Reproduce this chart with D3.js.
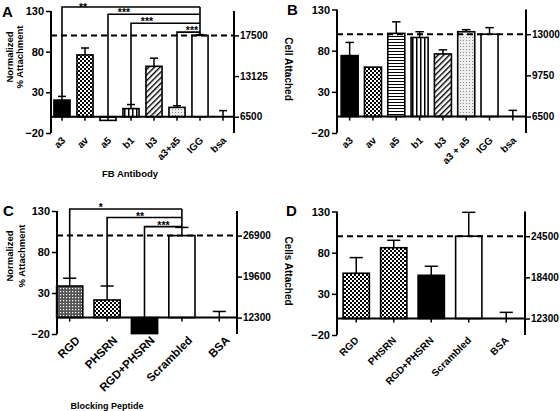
<!DOCTYPE html>
<html><head><meta charset="utf-8">
<script src="https://cdn.jsdelivr.net/npm/d3@7"></script>
<style>
body{margin:0;background:#fff}
text{font-family:"Liberation Sans",Arial,Helvetica,sans-serif;font-weight:bold;fill:#000}
</style>
</head><body>
<svg id="chart" width="560" height="411"></svg>
<script>
// ---------- DATA ----------
const leftTicks = [-20, 30, 80, 130];
const rightTickPos = [100, 50, 0];

// Panel A
const catsA = ["a3", "av", "a5", "b1", "b3", "a3+a5", "IGG", "bsa"];
const valsA = [20.5, 76, -4.5, 10, 62, 11.5, 100, 0];
const errsA = [4.5, 8.5, 0, 5, 10, 2, 1, 7.5];
const rightLabelsA = ["17500", "13125", "6500"];
const sigFromA = ["a3", "a5", "b1", "a3+a5"];
const sigToA = ["IGG", "IGG", "IGG", "IGG"];
const sigLevelA = [135, 126, 115, 104];
const sigLabelA = ["**", "***", "***", "***"];

// Panel B
const catsB = ["a3", "av", "a5", "b1", "b3", "a3 + a5", "IGG", "bsa"];
const valsB = [74, 60, 101, 96, 76, 103, 100, 0];
const errsB = [16, 0, 14, 7, 5, 2.5, 8, 7.5];
const rightLabelsB = ["13000", "9750", "6500"];

// Panel C
const catsC = ["RGD", "PHSRN", "RGD+PHSRN", "Scrambled", "BSA"];
const valsC = [38.5, 21.5, -19.5, 100, 0];
const errsC = [9.5, 17, 0, 10, 7.5];
const rightLabelsC = ["26900", "19600", "12300"];
const sigFromC = ["RGD", "PHSRN", "RGD+PHSRN"];
const sigToC = ["Scrambled", "Scrambled", "Scrambled"];
const sigLevelC = [132.5, 122, 111];
const sigLabelC = ["*", "**", "***"];

// Panel D
const catsD = ["RGD", "PHSRN", "RGD+PHSRN", "Scrambled", "BSA"];
const valsD = [55, 86, 52.5, 100, 0];
const errsD = [19, 9, 11, 29, 7.5];
const rightLabelsD = ["24500", "18400", "12300"];

// ---------- STYLE / LAYOUT ----------
const svg = d3.select("#chart");
const defs = svg.append("defs");

function pat(id, w, h, draw, bg) {
  const p = defs.append("pattern").attr("id", id).attr("patternUnits", "userSpaceOnUse")
    .attr("width", w).attr("height", h);
  p.append("rect").attr("width", w).attr("height", h).attr("fill", bg || "#fff");
  draw(p);
}
pat("checker", 4, 4, p => {
  p.append("rect").attr("x", 0).attr("y", 0).attr("width", 2).attr("height", 2).attr("fill", "#000");
  p.append("rect").attr("x", 2).attr("y", 2).attr("width", 2).attr("height", 2).attr("fill", "#000");
});
pat("checkerDark", 3, 3, p => {
  p.append("rect").attr("x", 0).attr("y", 0).attr("width", 1.2).attr("height", 1.2).attr("fill", "#fff");
}, "#555");
pat("hstripes", 3, 3, p => {
  p.append("rect").attr("x", 0).attr("y", 0).attr("width", 3).attr("height", 1).attr("fill", "#000");
});
pat("vstripes", 4, 4, p => {
  p.append("rect").attr("x", 0).attr("y", 0).attr("width", 1.5).attr("height", 4).attr("fill", "#000");
});
(function(){
  const p = defs.append("pattern").attr("id", "diag").attr("patternUnits", "userSpaceOnUse")
    .attr("width", 4).attr("height", 4).attr("patternTransform", "rotate(45)");
  p.append("rect").attr("width", 4).attr("height", 4).attr("fill", "#fff");
  p.append("rect").attr("x", 0).attr("y", 0).attr("width", 1.4).attr("height", 4).attr("fill", "#000");
})();
pat("dots", 3, 3, p => {
  p.append("rect").attr("x", 1).attr("y", 1).attr("width", 1).attr("height", 1).attr("fill", "#888");
}, "#eee");

const fillOf = k => k === "solid" ? "#000" : k === "white" ? "#fff" : `url(#${k})`;

const panels = [
  { letter: "A", letterPos: [2, 17], cats: catsA, vals: valsA, errs: errsA, rightLabels: rightLabelsA,
    fills: ["solid", "checker", "hstripes", "vstripes", "diag", "dots", "white", "white"],
    xRange: [50.5, 234.5], yRange: [133, 11], leftX: 51, rightX: 234, padding: 0.3,
    tickFont: 10, labelDx: 4, labelDy: 8,
    yTitle: ["Normalized", "% Attachment"], yTitleX: [12.5, 23], yTitleY: 57, yTitleRot: -90, yTitleFont: 9.5,
    xTitle: "FB Antibody", xTitlePos: [130, 177], xTitleFont: 9.5,
    sig: { from: sigFromA, to: sigToA, level: sigLevelA, label: sigLabelA, labelDx: [21, 16, 16, 15] } },
  { letter: "B", letterPos: [287, 15], cats: catsB, vals: valsB, errs: errsB, rightLabels: rightLabelsB,
    fills: ["solid", "checker", "hstripes", "vstripes", "diag", "dots", "white", "white"],
    xRange: [338, 524.5], yRange: [133, 9.5], leftX: 337, rightX: 526, padding: 0.27,
    tickFont: 10, labelDx: 4, labelDy: 8,
    yTitle: ["Cell Attached"], yTitleX: [285], yTitleY: 69, yTitleRot: 90, yTitleFont: 10 },
  { letter: "C", letterPos: [3, 216], cats: catsC, vals: valsC, errs: errsC, rightLabels: rightLabelsC,
    fills: ["checkerDark", "checker", "solid", "white", "white"],
    xRange: [51, 238], yRange: [334, 211], leftX: 57, rightX: 237, padding: 0.3,
    tickFont: 11.5, labelDx: 11, labelDy: 7,
    yTitle: ["Normalized", "% Attachment"], yTitleX: [12.5, 25], yTitleY: 256, yTitleRot: -90, yTitleFont: 9.5,
    xTitle: "Blocking Peptide", xTitlePos: [107, 409], xTitleFont: 9,
    sig: { from: sigFromC, to: sigToC, level: sigLevelC, label: sigLabelC, labelDx: [31, 33, 19] } },
  { letter: "D", letterPos: [286, 216], cats: catsD, vals: valsD, errs: errsD, rightLabels: rightLabelsD,
    fills: ["checker", "checker", "solid", "white", "white"],
    xRange: [337.5, 525], yRange: [335, 211.5], leftX: 337, rightX: 525, padding: 0.3,
    tickFont: 10, labelDx: 3, labelDy: 6,
    yTitle: ["Cells Attached"], yTitleX: [285], yTitleY: 271, yTitleRot: 90, yTitleFont: 10 }
];

panels.forEach(drawPanel);

function drawPanel(P) {
  const g = svg.append("g");
  const x = d3.scaleBand().domain(P.cats).range(P.xRange).paddingInner(P.padding).paddingOuter(P.padding / 2);
  const y = d3.scaleLinear().domain([-20, 130]).range(P.yRange);
  const cx = c => x(c) + x.bandwidth() / 2;
  const bw = x.bandwidth();
  const y0 = y(0);

  // bars
  P.cats.forEach((c, i) => {
    const v = P.vals[i];
    g.append("rect")
      .attr("x", x(c)).attr("width", bw)
      .attr("y", Math.min(y(v), y0)).attr("height", Math.abs(y(v) - y0))
      .attr("fill", fillOf(P.fills[i])).attr("stroke", "#000").attr("stroke-width", 1.6);
    const e = P.errs[i];
    if (e > 0) {
      const top = v >= 0 ? v + e : v - e;
      g.append("line").attr("x1", cx(c)).attr("x2", cx(c)).attr("y1", y(v)).attr("y2", y(top))
        .attr("stroke", "#000").attr("stroke-width", 1.5);
      g.append("line").attr("x1", cx(c) - bw / 4).attr("x2", cx(c) + bw / 4).attr("y1", y(top)).attr("y2", y(top))
        .attr("stroke", "#000").attr("stroke-width", 1.5);
    }
  });

  // dashed reference line at 100
  g.append("line").attr("x1", P.leftX).attr("x2", P.rightX).attr("y1", y(100)).attr("y2", y(100))
    .attr("stroke", "#000").attr("stroke-width", 2).attr("stroke-dasharray", "6,4");

  // left axis
  const left = d3.axisLeft(y).tickValues(leftTicks).tickSize(5).tickPadding(2);
  const la = g.append("g").attr("transform", `translate(${P.leftX},0)`).call(left);
  la.select(".domain").attr("stroke-width", 2).attr("d", `M0,${y(130)}V${y(-20)}`);
  la.selectAll(".tick line").attr("stroke-width", 1.5);
  la.selectAll("text").style("font-size", "11px").style("font-weight", "bold")
    .style("font-family", '"Liberation Sans",Arial,sans-serif');

  // right axis
  const right = d3.axisRight(y).tickValues(rightTickPos).tickSize(5).tickPadding(1)
    .tickFormat((d, i) => P.rightLabels[i]);
  const ra = g.append("g").attr("transform", `translate(${P.rightX},0)`).call(right);
  ra.select(".domain").attr("stroke-width", 2).attr("d", `M0,${y(130)}V${y(-20)}`);
  ra.selectAll(".tick line").attr("stroke-width", 1.5);
  ra.selectAll("text").style("font-size", "10px").style("font-weight", "bold")
    .style("font-family", '"Liberation Sans",Arial,sans-serif');

  // x axis at zero
  const bottom = d3.axisBottom(x).tickSize(4).tickFormat("");
  const xa = g.append("g").attr("transform", `translate(0,${y0})`).call(bottom);
  xa.select(".domain").attr("stroke-width", 2).attr("d", `M${P.leftX},0H${P.rightX}`);
  xa.selectAll(".tick line").attr("stroke-width", 1.5);

  // x category labels (rotated)
  const yb = y(-20);
  P.cats.forEach(c => {
    g.append("text").attr("text-anchor", "end")
      .attr("transform", `translate(${cx(c) + P.labelDx},${yb + P.labelDy}) rotate(-45)`)
      .style("font-size", P.tickFont + "px").text(c);
  });

  // significance brackets
  if (P.sig) {
    const S = P.sig;
    const topOf = c => { const i = P.cats.indexOf(c); const v = P.vals[i]; return v > 0 ? v + P.errs[i] : 0; };
    S.from.forEach((f, k) => {
      const t = S.to[k], L = S.level[k];
      g.append("path").attr("fill", "none").attr("stroke", "#000").attr("stroke-width", 1.6)
        .attr("d", `M${cx(f)},${y(topOf(f))}V${y(L)}H${cx(t)}`);
      g.append("text").attr("x", cx(f) + S.labelDx[k]).attr("y", Math.max(y(L) + 2, 10.5))
        .attr("text-anchor", "middle")
        .style("font-size", "10.5px").text(S.label[k]);
    });
    const tgt = S.to[0];
    g.append("line").attr("x1", cx(tgt)).attr("x2", cx(tgt)).attr("y1", y(d3.max(S.level))).attr("y2", y(topOf(tgt)))
      .attr("stroke", "#000").attr("stroke-width", 1.6);
  }

  // titles
  P.yTitle.forEach((t, i) => {
    g.append("text").attr("text-anchor", "middle")
      .attr("transform", `translate(${P.yTitleX[i]},${P.yTitleY}) rotate(${P.yTitleRot})`)
      .style("font-size", P.yTitleFont + "px").text(t);
  });
  if (P.xTitle) {
    g.append("text").attr("x", P.xTitlePos[0]).attr("y", P.xTitlePos[1]).attr("text-anchor", "middle")
      .style("font-size", P.xTitleFont + "px").text(P.xTitle);
  }
  g.append("text").attr("x", P.letterPos[0]).attr("y", P.letterPos[1])
    .style("font-size", "15px").text(P.letter);
}
</script>
</body></html>
